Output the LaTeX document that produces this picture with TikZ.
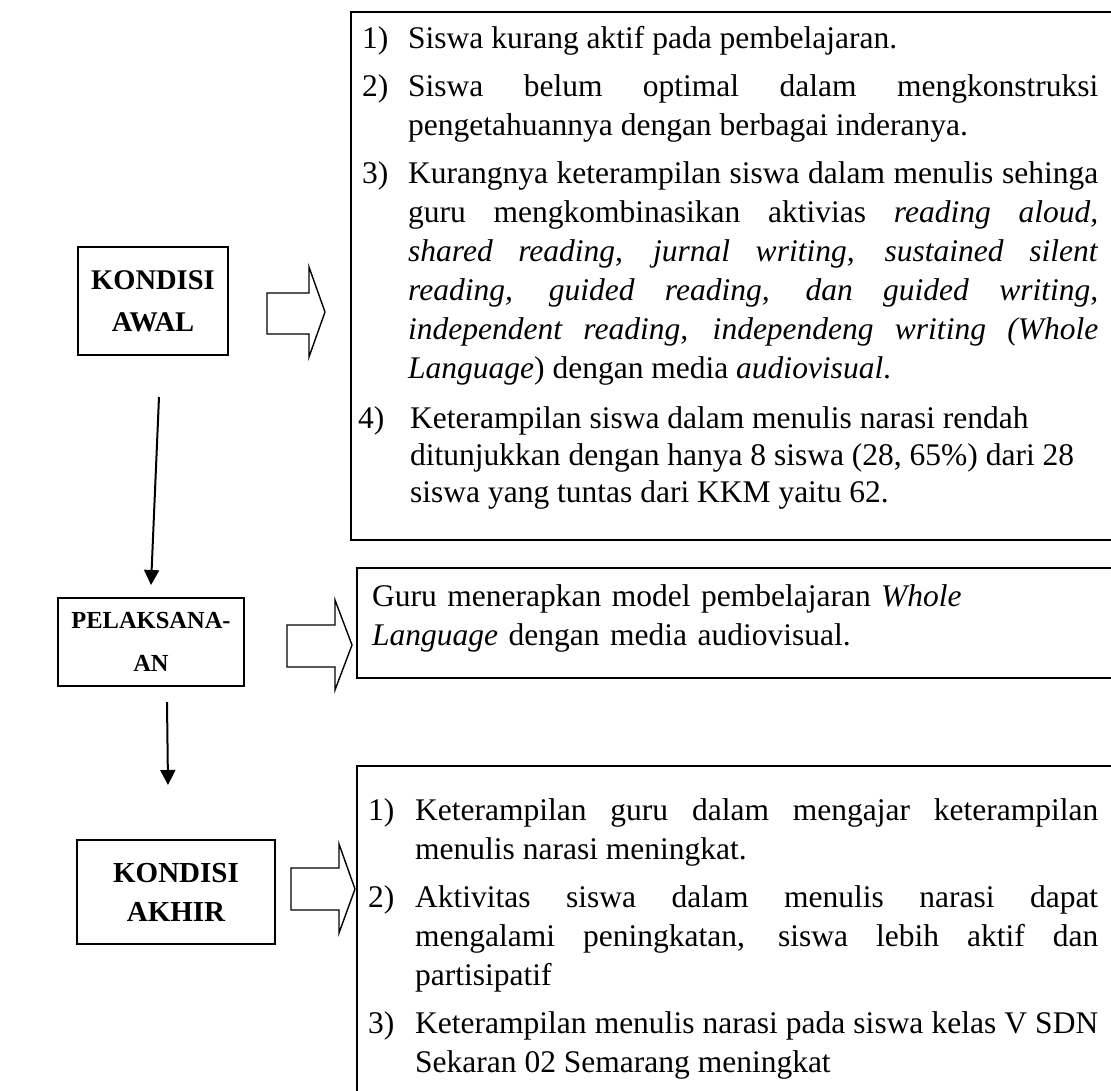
\documentclass[tikz,border=0pt]{standalone}
\usepackage{fontspec}
\setmainfont{Liberation Serif}
\usetikzlibrary{arrows.meta}
\begin{document}
\begin{tikzpicture}[x=1pt,y=-1pt,
  lbox/.style={draw, line width=1.4pt, align=center, inner sep=0pt},
  rbox/.style={draw, line width=1.4pt},
  body/.style={anchor=north west, inner sep=0pt, align=justify, font=\fontsize{31.5}{39}\selectfont},
  blockarr/.style={draw, line width=1.4pt, fill=white, line join=miter},
  down/.style={line width=2pt, -{Triangle[length=15pt,width=15pt]}}
]
\useasboundingbox (0,0) rectangle (1111,1091);
\clip (0,0) rectangle (1111,1091);
\fill[white] (0,0) rectangle (1111,1091);

% left boxes
\node[lbox, minimum width=150pt, minimum height=108pt, font=\bfseries\fontsize{28.5}{42}\selectfont] (awal) at (153,301) {KONDISI\\AWAL};
\node[lbox, minimum width=186pt, minimum height=88pt, font=\bfseries\fontsize{24.5}{43}\selectfont] (pel) at (151,642) {PELAKSANA-\\AN};
\node[lbox, minimum width=198pt, minimum height=104pt, font=\bfseries\fontsize{29}{39}\selectfont] (akhir) at (176,892) {KONDISI\\AKHIR};

% right boxes
\draw[rbox] (351,12) rectangle (1130,540);
\draw[rbox] (357,568) rectangle (1130,678);
\draw[rbox] (357,766) rectangle (1130,1110);

% top box text
\node[body, text width=736pt] (t1) at (362,26) {\parskip=9pt
\noindent\hangindent=46pt\hangafter=1\makebox[46pt][l]{1)}Siswa kurang aktif pada pembelajaran.\par
\noindent\hangindent=46pt\hangafter=1\makebox[46pt][l]{2)}Siswa belum optimal dalam mengkonstruksi\linebreak pengetahuannya dengan berbagai inderanya.\par
\noindent\hangindent=46pt\hangafter=1\makebox[46pt][l]{3)}Kurangnya keterampilan siswa dalam menulis sehinga\linebreak guru mengkombinasikan aktivias \textit{reading aloud,}\linebreak \textit{shared reading, jurnal writing, sustained silent}\linebreak \textit{reading, guided reading, dan guided writing,}\linebreak \textit{independent reading, independeng writing (Whole}\linebreak \textit{Language}) dengan media \textit{audiovisual}.\par
\vspace{4pt}\baselineskip=37pt
\noindent\hangindent=48pt\hangafter=1\hspace*{-4pt}\makebox[52pt][l]{4)}Keterampilan siswa dalam menulis narasi rendah\newline ditunjukkan dengan hanya 8 siswa (28, 65\%) dari 28\newline siswa yang tuntas dari KKM yaitu 62.\par};

% middle box text
\node[body, align=left, text width=700pt] (t2) at (372,584) {Guru menerapkan model pembelajaran \textit{Whole}\\\textit{Language} dengan media audiovisual.};

% bottom box text
\node[body, text width=730pt] (t3) at (368,798) {\parskip=9pt
\noindent\hangindent=47pt\hangafter=1\makebox[47pt][l]{1)}Keterampilan guru dalam mengajar keterampilan\linebreak menulis narasi meningkat.\par
\noindent\hangindent=47pt\hangafter=1\makebox[47pt][l]{2)}Aktivitas siswa dalam menulis narasi dapat\linebreak mengalami peningkatan, siswa lebih aktif dan\linebreak partisipatif\par
\noindent\hangindent=47pt\hangafter=1\makebox[47pt][l]{3)}Keterampilan menulis narasi pada siswa kelas V SDN\linebreak Sekaran 02 Semarang meningkat\par};

% block arrows
\draw[blockarr] (267,293) -- (309,293) -- (309,267) -- (325,312) -- (309,357) -- (309,334) -- (267,334) -- cycle;
\draw[blockarr] (287,625) -- (335,625) -- (335,600) -- (352,645) -- (335,690) -- (335,667) -- (287,667) -- cycle;
\draw[blockarr] (291,868) -- (339,868) -- (339,844) -- (355,889) -- (339,933) -- (339,910) -- (291,910) -- cycle;

% down arrows
\coordinate (d1s) at (159,397);
\coordinate (d1e) at (151,585);
\coordinate (d2s) at (167,702);
\coordinate (d2e) at (168,785);
\draw[down] (d1s) -- (d1e);
\draw[down] (d2s) -- (d2e);
\end{tikzpicture}
\end{document}
